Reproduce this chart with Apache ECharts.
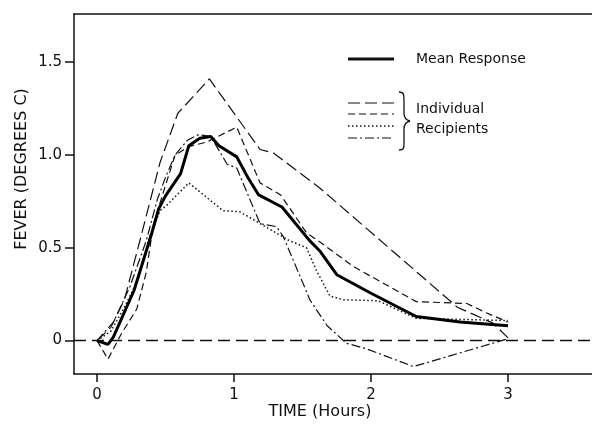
<!DOCTYPE html>
<html>
<head>
<meta charset="utf-8">
<script src="https://cdn.jsdelivr.net/npm/echarts@6/dist/echarts.min.js"></script>
<style>html,body{margin:0;padding:0;background:#fff;}#chart{width:592px;height:426px;}</style>
</head>
<body>
<div id="chart"></div>
<script>
// Time (hours) and fever (degrees C)
var meanT = [0, 0.08, 0.12, 0.27, 0.4, 0.45, 0.5, 0.61, 0.67, 0.75, 0.83, 0.89, 1.02, 1.1, 1.18, 1.35, 1.55, 1.63, 1.75, 2.0, 2.33, 2.65, 3.0];
var meanY = [0, -0.02, 0.02, 0.27, 0.58, 0.71, 0.78, 0.9, 1.05, 1.09, 1.1, 1.05, 0.99, 0.88, 0.785, 0.72, 0.54, 0.48, 0.355, 0.255, 0.13, 0.10, 0.08];

var longDashT = [0, 0.1, 0.2, 0.31, 0.46, 0.59, 0.82, 1.19, 1.29, 1.63, 2.63, 2.89, 3.0];
var longDashY = [0, 0.07, 0.22, 0.53, 0.96, 1.225, 1.41, 1.03, 1.01, 0.82, 0.18, 0.094, 0.015];

var shortDashT = [0, 0.08, 0.18, 0.29, 0.36, 0.41, 0.48, 0.57, 0.67, 0.8, 1.02, 1.19, 1.34, 1.53, 1.63, 1.87, 2.33, 2.7, 2.84, 3.0];
var shortDashY = [0, -0.1, 0.04, 0.17, 0.37, 0.62, 0.79, 1.0, 1.045, 1.07, 1.15, 0.85, 0.785, 0.58, 0.53, 0.40, 0.21, 0.20, 0.15, 0.10];

var dottedT = [0, 0.1, 0.2, 0.3, 0.38, 0.46, 0.51, 0.67, 0.92, 1.04, 1.17, 1.4, 1.53, 1.6, 1.7, 1.8, 2.05, 2.33, 3.0];
var dottedY = [0, 0.05, 0.18, 0.33, 0.55, 0.70, 0.73, 0.85, 0.70, 0.695, 0.64, 0.54, 0.50, 0.38, 0.24, 0.22, 0.215, 0.12, 0.108];

var dashDotT = [0, 0.12, 0.24, 0.36, 0.44, 0.5, 0.57, 0.66, 0.74, 0.83, 0.95, 1.02, 1.19, 1.31, 1.36, 1.555, 1.68, 1.82, 1.97, 2.31, 3.0];
var dashDotY = [0, 0.10, 0.29, 0.54, 0.76, 0.88, 1.0, 1.08, 1.11, 1.10, 0.95, 0.93, 0.63, 0.614, 0.56, 0.218, 0.08, -0.014, -0.045, -0.14, 0.01];

var xTicks = [0, 1, 2, 3];
var yTicks = [0, 0.5, 1.0, 1.5];

function pairs(t, y) { return t.map(function (v, i) { return [v, y[i]]; }); }

var FONT = 'DejaVu Sans';
var INK = '#111';
var X_MIN = -0.168, X_MAX = 3.613;

var chart = echarts.init(document.getElementById('chart'), null, {renderer: 'canvas'});

function indiv(name, t, y, dash, w) {
  return {
    name: name, type: 'line', data: pairs(t, y), symbol: 'none', smooth: false,
    lineStyle: {color: INK, width: w || 1.2, type: dash}, silent: true, z: 2
  };
}

function bz(x1, y1, c1x, c1y, c2x, c2y, x2, y2) {
  return {type: 'bezierCurve', shape: {x1: x1, y1: y1, cpx1: c1x, cpy1: c1y, cpx2: c2x, cpy2: c2y, x2: x2, y2: y2},
    style: {stroke: INK, lineWidth: 1.3, fill: null}};
}
function ln(x1, y1, x2, y2, w, dash) {
  var s = {stroke: INK, lineWidth: w};
  if (dash) s.lineDash = dash;
  return {type: 'line', shape: {x1: x1, y1: y1, x2: x2, y2: y2}, style: s};
}

chart.setOption({
  animation: false,
  backgroundColor: '#fff',
  grid: {left: 74, top: 14, right: 0, bottom: 52, show: false},
  xAxis: [{
    type: 'value', min: X_MIN, max: X_MAX,
    axisLine: {show: true, onZero: false, lineStyle: {color: INK, width: 1.5}},
    axisTick: {show: true, inside: false, length: 8, customValues: xTicks, lineStyle: {color: INK, width: 1.5}},
    axisLabel: {customValues: xTicks, margin: 14, color: INK, fontFamily: FONT, fontSize: 15,
      formatter: function (v) { return String(v); }},
    splitLine: {show: false}
  }, {
    type: 'value', position: 'top', min: X_MIN, max: X_MAX,
    axisLine: {show: true, onZero: false, lineStyle: {color: INK, width: 1.5}},
    axisTick: {show: false}, axisLabel: {show: false}, splitLine: {show: false}
  }],
  yAxis: {
    type: 'value', min: -0.18, max: 1.76,
    axisLine: {show: true, onZero: false, lineStyle: {color: INK, width: 1.5}},
    axisTick: {show: true, inside: false, length: 9, customValues: yTicks, lineStyle: {color: INK, width: 1.5}},
    axisLabel: {customValues: yTicks, margin: 12, color: INK, fontFamily: FONT, fontSize: 15,
      formatter: function (v) { return v === 0 ? '0' : v.toFixed(1); }},
    splitLine: {show: false}
  },
  series: [
    indiv('Individual 1', longDashT, longDashY, [12, 5]),
    indiv('Individual 2', shortDashT, shortDashY, [7, 4]),
    indiv('Individual 3', dottedT, dottedY, [1.5, 2.5], 1.5),
    indiv('Individual 4', dashDotT, dashDotY, [9, 3, 2, 3]),
    {
      name: 'Mean Response', type: 'line', data: pairs(meanT, meanY), symbol: 'none',
      lineStyle: {color: '#000', width: 3}, silent: true, z: 3,
      markLine: {
        silent: true, symbol: 'none', label: {show: false},
        lineStyle: {color: INK, width: 1.3, type: [12, 6]},
        data: [{yAxis: 0}]
      }
    }
  ],
  graphic: [
    {type: 'text', x: 22, y: 169, rotation: Math.PI / 2,
      style: {text: 'FEVER (DEGREES C)', fill: INK, font: '16px "DejaVu Sans"', align: 'center', verticalAlign: 'middle'}},
    {type: 'text', x: 320, y: 412,
      style: {text: 'TIME (Hours)', fill: INK, font: '16px "DejaVu Sans"', align: 'center', verticalAlign: 'middle'}},
    ln(348, 59, 394, 59, 3),
    {type: 'text', x: 416, y: 59,
      style: {text: 'Mean Response', fill: INK, font: '14px "DejaVu Sans"', align: 'left', verticalAlign: 'middle'}},
    ln(348, 103, 394, 103, 1.2, [12, 5]),
    ln(348, 114, 394, 114, 1.2, [7, 4]),
    ln(348, 126, 394, 126, 1.5, [1.5, 2.5]),
    ln(348, 138, 394, 138, 1.2, [9, 3, 2, 3]),
    bz(399, 92, 404, 92, 404, 95, 404, 100),
    ln(404, 100, 404, 113, 1.3),
    bz(404, 113, 404, 118, 406, 120, 410, 121),
    bz(410, 121, 406, 122, 404, 124, 404, 129),
    ln(404, 129, 404, 143, 1.3),
    bz(404, 143, 404, 148, 404, 150, 399, 150),
    {type: 'text', x: 416, y: 109,
      style: {text: 'Individual', fill: INK, font: '14px "DejaVu Sans"', align: 'left', verticalAlign: 'middle'}},
    {type: 'text', x: 416, y: 129,
      style: {text: 'Recipients', fill: INK, font: '14px "DejaVu Sans"', align: 'left', verticalAlign: 'middle'}}
  ]
});
</script>
</body>
</html>
